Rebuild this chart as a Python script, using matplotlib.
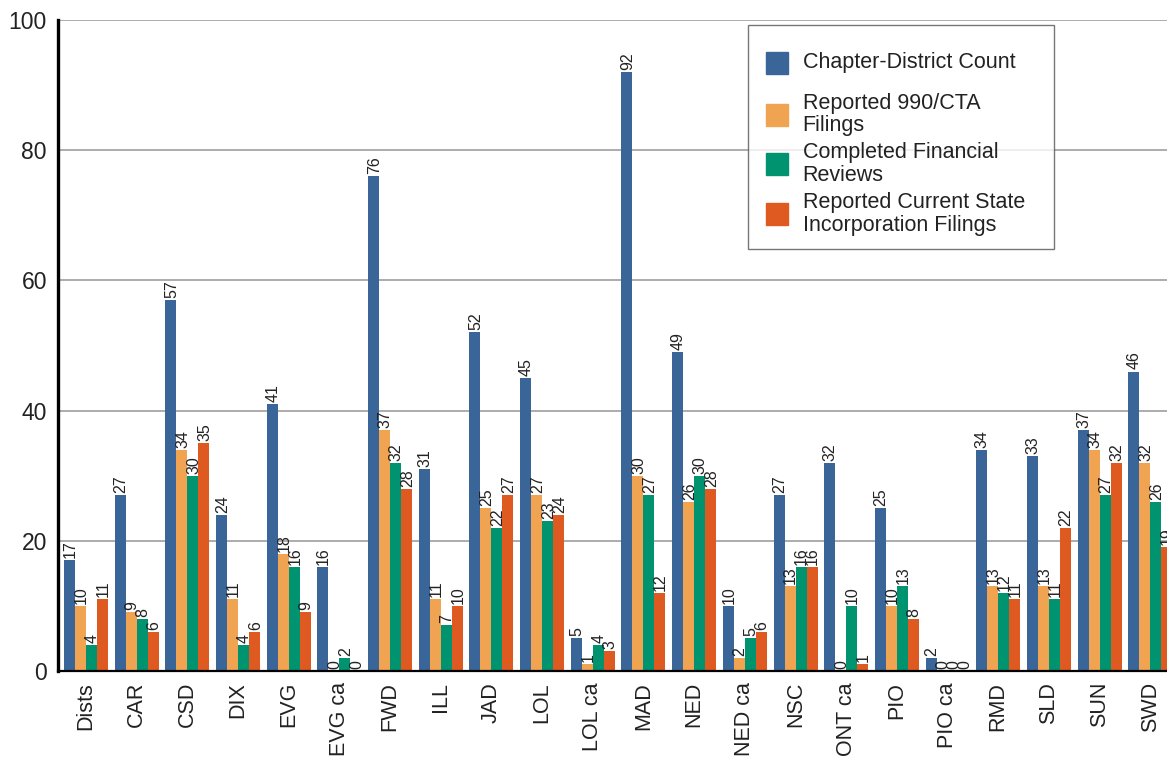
import matplotlib.pyplot as plt
from matplotlib.lines import Line2D
import numpy as np

plt.rcParams['font.family'] = ['Liberation Sans', 'DejaVu Sans']

districts = ["Dists", "CAR", "CSD", "DIX", "EVG", "EVG ca", "FWD", "ILL", "JAD", "LOL",
             "LOL ca", "MAD", "NED", "NED ca", "NSC", "ONT ca", "PIO", "PIO ca", "RMD",
             "SLD", "SUN", "SWD"]
chapter_count = [17, 27, 57, 24, 41, 16, 76, 31, 52, 45, 5, 92, 49, 10, 27, 32, 25, 2, 34, 33, 37, 46]
filings_990 = [10, 9, 34, 11, 18, 0, 37, 11, 25, 27, 1, 30, 26, 2, 13, 0, 10, 0, 13, 13, 34, 32]
fin_reviews = [4, 8, 30, 4, 16, 2, 32, 7, 22, 23, 4, 27, 30, 5, 16, 10, 13, 0, 12, 11, 27, 26]
state_filings = [11, 6, 35, 6, 9, 0, 28, 10, 27, 24, 3, 12, 28, 6, 16, 1, 8, 0, 11, 22, 32, 19]

series = [
    ("Chapter-District Count", chapter_count, "#3a6598"),
    ("Reported 990/CTA\nFilings", filings_990, "#f0a350"),
    ("Completed Financial\nReviews", fin_reviews, "#00936f"),
    ("Reported Current State\nIncorporation Filings", state_filings, "#df5a21"),
]

fig = plt.figure(figsize=(11.67, 7.57), dpi=100)
ax = fig.add_axes([58 / 1167, 1 - 671 / 757, 1 - 58 / 1167, 651 / 757])

x = np.arange(len(districts))
w = 0.217
for i, (name, vals, col) in enumerate(series):
    pos = x + (i - 1.5) * w
    ax.bar(pos, vals, width=w, color=col, linewidth=0, zorder=3)
    for p, v in zip(pos, vals):
        ax.annotate(str(v), (p, v), xytext=(0.5, 1.5), textcoords="offset points",
                    ha="center", va="bottom", rotation=90, fontsize=11.5,
                    color="#222222", zorder=4)

ax.set_xlim(-0.553, 21.33)
ax.set_ylim(0, 100)
ax.set_yticks([0, 20, 40, 60, 80, 100])
ax.set_xticks(x)
ax.set_xticklabels(districts, rotation=90, fontsize=15.5, color="#222222")
ax.tick_params(axis="y", length=0, pad=8, labelsize=16.5, labelcolor="#222222")
ax.tick_params(axis="x", length=0, pad=8)
ax.yaxis.grid(True, color="#a6a6a6", linewidth=1.3, zorder=0)
ax.set_axisbelow(True)
for s in ["top", "right"]:
    ax.spines[s].set_visible(False)
ax.spines["left"].set_linewidth(2.4)
ax.spines["bottom"].set_linewidth(1.6)
ax.spines["left"].set_zorder(5)
ax.spines["bottom"].set_zorder(5)

# legend: first label padded with blank lines so every entry gets the same height
labels = [s[0] for s in series]
labels[0] = "\n" + labels[0] + "\n"
handles = [Line2D([], [], marker="s", linestyle="none", markersize=15.5,
                  markerfacecolor=col, markeredgecolor=col) for _, _, col in series]
leg = fig.legend(handles, labels, loc="upper left",
                 bbox_to_anchor=(748 / 1167, 1 - 251 / 757, 306 / 1167, 226 / 757),
                 mode="expand", borderaxespad=0,
                 fontsize=15.5, frameon=True, fancybox=False, handlelength=1.5,
                 handleheight=0.8, handletextpad=0.42, borderpad=0.62,
                 labelspacing=0.28)
leg.get_frame().set_edgecolor("#555555")
leg.get_frame().set_linewidth(1.0)
texts = leg.get_texts()
for t in texts:
    t.set_color("#222222")
    t.set_linespacing(1.1)
texts[0].set_linespacing(0.54)

fig.savefig("out.png", dpi=100)
